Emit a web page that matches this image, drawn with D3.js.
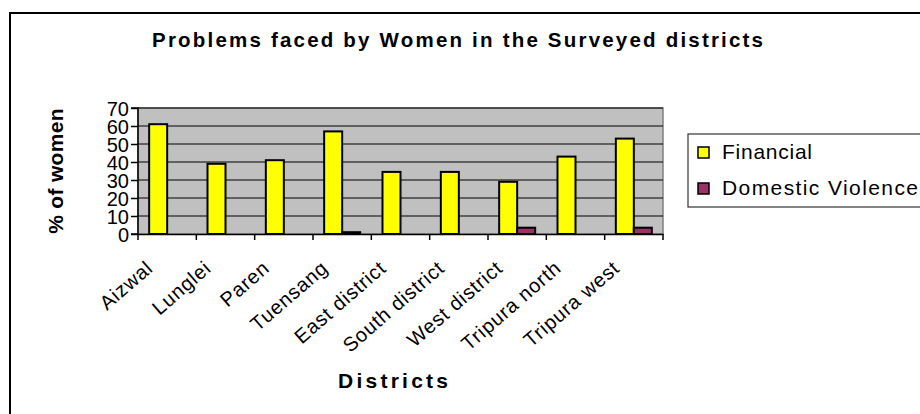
<!DOCTYPE html>
<html><head><meta charset="utf-8">
<script src="https://cdn.jsdelivr.net/npm/d3@7"></script>
<style>
body{margin:0;background:#fff;}
text{font-family:"Liberation Sans",Arial,sans-serif;fill:#000;}
</style></head>
<body>
<svg id="c" width="920" height="414"></svg>
<script>
const categories = ["Aizwal","Lunglei","Paren","Tuensang","East district","South district","West district","Tripura north","Tripura west"];
const seriesNames = ["Financial","Domestic Violence"];
const financial = [61,39,41,57,34.5,34.5,29,43,53];
const domesticViolence = [0,0,0,1,0,0,3.5,0,3.5];
const yTicks = [0,10,20,30,40,50,60,70];
const colors = ["#FFFF00","#993366"];
const titleText = "Problems faced by Women in the Surveyed districts";
const xTitle = "Districts";
const yTitle = "% of women";

const svg = d3.select("#c");
// outer frame
svg.append("rect").attr("x",10).attr("y",13).attr("width",930).attr("height",420)
  .attr("fill","#fff").attr("stroke","#000").attr("stroke-width",2);

const plot = {l:138,r:663,t:108,b:234};
const x = d3.scaleBand().domain(categories).range([plot.l,plot.r]).paddingInner(0).paddingOuter(0);
const y = d3.scaleLinear().domain([0,70]).range([plot.b,plot.t]);
const xs = d3.scaleBand().domain(seriesNames).range([0,x.bandwidth()]).paddingInner(0).paddingOuter(0.62);

// plot background
svg.append("rect").attr("x",plot.l).attr("y",plot.t).attr("width",plot.r-plot.l).attr("height",plot.b-plot.t)
  .attr("fill","#C0C0C0").attr("stroke","#808080").attr("stroke-width",1.5);

// gridlines
svg.append("g").selectAll("line").data(yTicks.filter(d=>d>0)).join("line")
  .attr("x1",plot.l).attr("x2",plot.r).attr("y1",d=>y(d)).attr("y2",d=>y(d))
  .attr("stroke","#000").attr("stroke-width",1);

// bars
const rows = categories.map((c,i)=>({c, vals:[financial[i],domesticViolence[i]]}));
const g = svg.append("g");
rows.forEach(r=>{
  r.vals.forEach((v,j)=>{
    if(v<=0) return;
    g.append("rect").attr("x",x(r.c)+xs(seriesNames[j])).attr("width",xs.bandwidth())
      .attr("y",y(v)).attr("height",y(0)-y(v))
      .attr("fill",colors[j]).attr("stroke","#000").attr("stroke-width",2);
  });
});

// y axis
const ya = d3.axisLeft(y).tickValues(yTicks).tickSize(7).tickPadding(2);
const yg = svg.append("g").attr("transform",`translate(${plot.l},0)`).call(ya);
yg.select(".domain").attr("stroke","#000").attr("stroke-width",1.5).attr("d",`M-7,${plot.t}H0V${plot.b}H-7`);
yg.selectAll(".tick line").attr("stroke","#000").attr("stroke-width",1.5);
yg.selectAll(".tick text").attr("font-size",20).attr("font-family","Liberation Sans, Arial").attr("fill","#000").attr("dy","0.36em");

// x axis
const xa = d3.axisBottom(x).tickSize(0).tickFormat("");
const xg = svg.append("g").attr("transform",`translate(0,${plot.b})`).call(xa);
xg.select(".domain").attr("stroke","#000").attr("stroke-width",1.5);
svg.append("g").selectAll("line").data(d3.range(categories.length+1)).join("line")
  .attr("x1",i=>plot.l+i*x.step()).attr("x2",i=>plot.l+i*x.step())
  .attr("y1",plot.b).attr("y2",plot.b+6).attr("stroke","#000").attr("stroke-width",1.5);

// category labels
svg.append("g").selectAll("text").data(categories).join("text")
  .attr("transform",d=>`translate(${x(d)+x.bandwidth()/2-13},${plot.b+36}) rotate(-41)`)
  .attr("text-anchor","end").attr("font-size",20).attr("letter-spacing",0.8)
  .text(d=>d);

// title
svg.append("text").attr("x",152).attr("y",47).attr("font-size",20.5).attr("font-weight","bold")
  .attr("textLength",611).attr("lengthAdjust","spacing").text(titleText);

// x title
svg.append("text").attr("x",338).attr("y",388).attr("font-size",21).attr("font-weight","bold")
  .attr("textLength",110).attr("lengthAdjust","spacing").text(xTitle);

// y title
svg.append("text").attr("transform",`translate(63,${(plot.t+plot.b)/2}) rotate(-90)`)
  .attr("text-anchor","middle").attr("font-size",21).attr("font-weight","bold").attr("letter-spacing",0.3)
  .text(yTitle);

// legend
svg.append("rect").attr("x",688).attr("y",134).attr("width",260).attr("height",73)
  .attr("fill","#fff").attr("stroke","#333").attr("stroke-width",1.2);
const lg = svg.append("g").selectAll("g").data(seriesNames).join("g")
  .attr("transform",(d,i)=>`translate(698,${147+i*36})`);
lg.append("rect").attr("width",11).attr("height",11).attr("fill",(d,i)=>colors[i]).attr("stroke","#000").attr("stroke-width",1.5);
const legW = [90,196];
lg.append("text").attr("x",24).attr("y",12).attr("font-size",21)
  .attr("textLength",(d,i)=>legW[i]).attr("lengthAdjust","spacing").text(d=>d);
</script>
</body></html>
